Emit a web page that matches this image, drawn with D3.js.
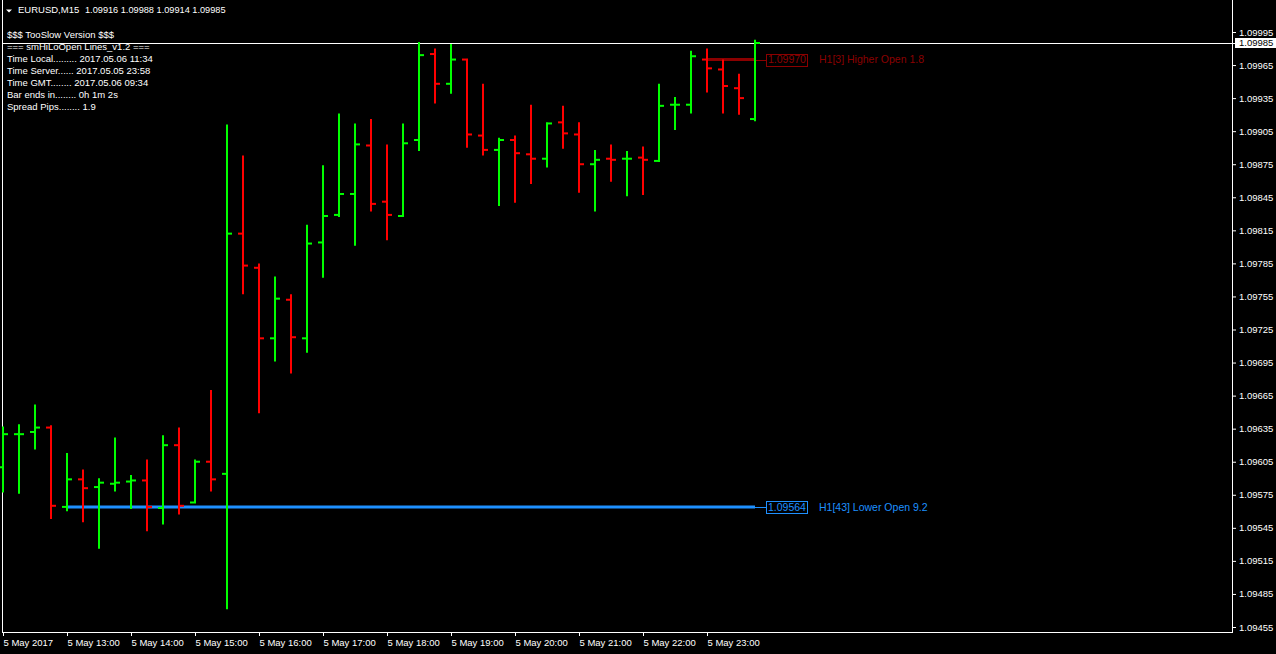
<!DOCTYPE html>
<html>
<head>
<meta charset="utf-8">
<script src="https://cdn.jsdelivr.net/npm/d3@7"></script>
<style>
  html, body { margin: 0; padding: 0; background: #000; }
  svg { display: block; }
  text { font-family: "Liberation Sans", Arial, sans-serif; }
</style>
</head>
<body>
<svg id="chart" width="1276" height="654"></svg>
<script>
// ---------------- DATA ----------------
const times = ["12:00","12:15","12:30","12:45","13:00","13:15","13:30","13:45",
  "14:00","14:15","14:30","14:45","15:00","15:15","15:30","15:45",
  "16:00","16:15","16:30","16:45","17:00","17:15","17:30","17:45",
  "18:00","18:15","18:30","18:45","19:00","19:15","19:30","19:45",
  "20:00","20:15","20:30","20:45","21:00","21:15","21:30","21:45",
  "22:00","22:15","22:30","22:45","23:00","23:15","23:30","23:45"];

const opens = [1.09600,1.09630,1.09632,1.09636,1.09564,1.09589,1.09582,1.09585,
  1.09587,1.09588,1.09563,1.09620,1.09568,1.09605,1.09594,1.09812,
  1.09781,1.09717,1.09752,1.09717,1.09804,1.09829,1.09848,1.09892,
  1.09841,1.09828,1.09897,1.09975,1.09948,1.09970,1.09901,1.09888,
  1.09897,1.09884,1.09880,1.09913,1.09902,1.09875,1.09880,1.09880,
  1.09881,1.09878,1.09929,1.09929,1.09970,1.09961,1.09944,1.09916];

const highs = [1.09637,1.09639,1.09657,1.09638,1.09613,1.09598,1.09590,1.09627,
  1.09593,1.09607,1.09629,1.09636,1.09607,1.09670,1.09911,1.09883,
  1.09785,1.09773,1.09757,1.09820,1.09874,1.09921,1.09912,1.09916,
  1.09893,1.09912,1.09986,1.09980,1.09984,1.09971,1.09948,1.09899,
  1.09901,1.09929,1.09913,1.09928,1.09913,1.09888,1.09893,1.09887,
  1.09891,1.09948,1.09936,1.09978,1.09980,1.09970,1.09957,1.09988];

const lows = [1.09577,1.09576,1.09616,1.09553,1.09560,1.09550,1.09526,1.09578,
  1.09562,1.09542,1.09548,1.09557,1.09567,1.09578,1.09471,1.09757,
  1.09649,1.09696,1.09685,1.09704,1.09772,1.09827,1.09801,1.09832,
  1.09806,1.09827,1.09887,1.09930,1.09939,1.09890,1.09883,1.09837,
  1.09840,1.09857,1.09872,1.09889,1.09849,1.09832,1.09859,1.09846,
  1.09847,1.09877,1.09906,1.09921,1.09940,1.09921,1.09920,1.09914];

const closes = [1.09630,1.09630,1.09636,1.09565,1.09589,1.09581,1.09586,1.09586,
  1.09588,1.09564,1.09620,1.09565,1.09605,1.09589,1.09812,1.09783,
  1.09717,1.09753,1.09718,1.09803,1.09828,1.09848,1.09893,1.09839,
  1.09829,1.09894,1.09974,1.09948,1.09970,1.09902,1.09888,1.09897,
  1.09885,1.09880,1.09912,1.09903,1.09875,1.09879,1.09879,1.09880,
  1.09879,1.09928,1.09929,1.09973,1.09962,1.09946,1.09935,1.09985];

const yTicks = [1.09995,1.09965,1.09935,1.09905,1.09875,1.09845,1.09815,1.09785,
  1.09755,1.09725,1.09695,1.09665,1.09635,1.09605,1.09575,1.09545,1.09515,1.09485,1.09455];

const xTickTimes  = ["12:00","13:00","14:00","15:00","16:00","17:00","18:00","19:00","20:00","21:00","22:00","23:00"];
const xTickLabels = ["5 May 2017","5 May 13:00","5 May 14:00","5 May 15:00","5 May 16:00","5 May 17:00",
  "5 May 18:00","5 May 19:00","5 May 20:00","5 May 21:00","5 May 22:00","5 May 23:00"];

const bidPrice = 1.09985;

const levelPrices = [1.09970, 1.09564];
const levelStarts = ["23:00", "13:00"];
const levelTexts  = ["H1[3] Higher Open 1.8", "H1[43] Lower Open 9.2"];

const symbolText = "EURUSD,M15";
const quoteText  = "1.09916 1.09988 1.09914 1.09985";
const versionText = "$$$ TooSlow Version $$$";
const infoLines = [
  "=== smHiLoOpen Lines_v1.2 ===",
  "Time Local......... 2017.05.06 11:34",
  "Time Server...... 2017.05.05 23:58",
  "Time GMT........ 2017.05.06 09:34",
  "Bar ends in........ 0h 1m 2s",
  "Spread Pips........ 1.9"
];

// ---------------- CHART ----------------
const W = 1276, H = 654;
const svg = d3.select("#chart");
svg.append("rect").attr("width", W).attr("height", H).attr("fill", "#000");

const parseT = s => { const [h, m] = s.split(":").map(Number); return new Date(Date.UTC(2017, 4, 5, h, m)); };

const x = d3.scaleUtc()
  .domain([parseT("12:00"), parseT("13:00")])
  .range([3, 67]);
const y = d3.scaleLinear()
  .domain([1.09455, 1.09995])
  .range([627, 32]);

const GREEN = "#00ff00", RED = "#ff0000", BLUE = "#1e90ff", DKRED = "#8b0000";
const FONT = 9.5;

// frame
const frameRight = 1232, frameBottom = 632, frameLeft = 2;
svg.append("line").attr("x1", frameLeft + 0.5).attr("x2", frameLeft + 0.5).attr("y1", 0).attr("y2", frameBottom + 0.5)
  .attr("stroke", "#fff").attr("stroke-width", 1);
svg.append("line").attr("x1", frameRight + 0.5).attr("x2", frameRight + 0.5).attr("y1", 0).attr("y2", frameBottom + 0.5)
  .attr("stroke", "#fff").attr("stroke-width", 1);
svg.append("line").attr("x1", frameLeft).attr("x2", frameRight + 1).attr("y1", frameBottom + 0.5).attr("y2", frameBottom + 0.5)
  .attr("stroke", "#fff").attr("stroke-width", 1);

// bid line
const bidY = Math.round(y(bidPrice)) + 0.5;
svg.append("line").attr("x1", frameLeft).attr("x2", 1235).attr("y1", bidY).attr("y2", bidY)
  .attr("stroke", "#fff").attr("stroke-width", 1);

// level lines
const lastX = x(parseT(times[times.length - 1]));
const levelColors = [DKRED, BLUE];
levelPrices.forEach((p, i) => {
  const ly = y(p);
  const c = levelColors[i];
  svg.append("line").attr("x1", x(parseT(levelStarts[i])) - 0.5).attr("x2", lastX)
    .attr("y1", ly).attr("y2", ly).attr("stroke", c).attr("stroke-width", 3);
  svg.append("line").attr("x1", lastX).attr("x2", 766).attr("y1", Math.round(ly) + 0.5).attr("y2", Math.round(ly) + 0.5)
    .attr("stroke", c).attr("stroke-width", 1);
  svg.append("rect").attr("x", 766.5).attr("y", Math.round(ly) - 5.5).attr("width", 41).attr("height", 12)
    .attr("fill", "none").attr("stroke", c).attr("stroke-width", 1);
  svg.append("text").attr("x", 768).attr("y", ly).attr("dy", "0.36em")
    .attr("fill", c).attr("font-size", 10.5).text(p.toFixed(5));
  svg.append("text").attr("x", 819).attr("y", ly).attr("dy", "0.36em")
    .attr("fill", c).attr("font-size", 10.5).text(levelTexts[i]);
});

// bars
const bars = times.map((t, i) => ({ t: parseT(t), o: opens[i], h: highs[i], l: lows[i], c: closes[i] }));
const gBars = svg.append("g");
bars.forEach(b => {
  const cx = x(b.t);
  const col = b.c >= b.o ? GREEN : RED;
  gBars.append("line").attr("x1", cx).attr("x2", cx).attr("y1", y(b.h)).attr("y2", y(b.l))
    .attr("stroke", col).attr("stroke-width", 2);
  gBars.append("line").attr("x1", cx - 5).attr("x2", cx - 1).attr("y1", y(b.o)).attr("y2", y(b.o))
    .attr("stroke", col).attr("stroke-width", 2);
  gBars.append("line").attr("x1", cx + 1).attr("x2", cx + 5).attr("y1", y(b.c)).attr("y2", y(b.c))
    .attr("stroke", col).attr("stroke-width", 2);
});

// y axis
const yAxis = d3.axisRight(y).tickValues(yTicks).tickSize(4).tickPadding(3).tickFormat(d => d.toFixed(5));
const gy = svg.append("g").attr("transform", `translate(${frameRight},0)`).call(yAxis);
gy.select(".domain").remove();
gy.selectAll(".tick line").attr("stroke", "#fff");
gy.selectAll(".tick text").attr("fill", "#fff").attr("font-size", FONT)
  .attr("font-family", '"Liberation Sans", Arial, sans-serif');

// bid label
svg.append("rect").attr("x", 1235).attr("y", 38).attr("width", 41).attr("height", 10).attr("fill", "#fff");
svg.append("text").attr("x", 1239).attr("y", y(bidPrice)).attr("dy", "0.34em")
  .attr("fill", "#000").attr("font-size", FONT).text(bidPrice.toFixed(5));

// x axis
const xAxis = d3.axisBottom(x).tickValues(xTickTimes.map(parseT)).tickSize(4).tickPadding(3)
  .tickFormat((d, i) => xTickLabels[i]);
const gx = svg.append("g").attr("transform", `translate(0,${frameBottom})`).call(xAxis);
gx.select(".domain").remove();
gx.selectAll(".tick line").attr("stroke", "#fff");
gx.selectAll(".tick text").attr("fill", "#fff").attr("font-size", FONT).attr("text-anchor", "start")
  .attr("font-family", '"Liberation Sans", Arial, sans-serif');

// header texts
svg.append("path").attr("d", "M6,9.5 L12,9.5 L9,12.5 Z").attr("fill", "#fff");
svg.append("text").attr("x", 18).attr("y", 10).attr("dy", "0.35em").attr("fill", "#fff")
  .attr("font-size", FONT).text(symbolText);
svg.append("text").attr("x", 85).attr("y", 10).attr("dy", "0.35em").attr("fill", "#fff")
  .attr("font-size", 9.2).text(quoteText);
svg.append("text").attr("x", 7).attr("y", 35).attr("dy", "0.35em").attr("fill", "#fff")
  .attr("font-size", FONT).text(versionText);
infoLines.forEach((s, i) => {
  svg.append("text").attr("x", 7).attr("y", 47 + i * 12).attr("dy", "0.35em").attr("fill", "#fff")
    .attr("font-size", FONT).text(s);
});
</script>
</body>
</html>
